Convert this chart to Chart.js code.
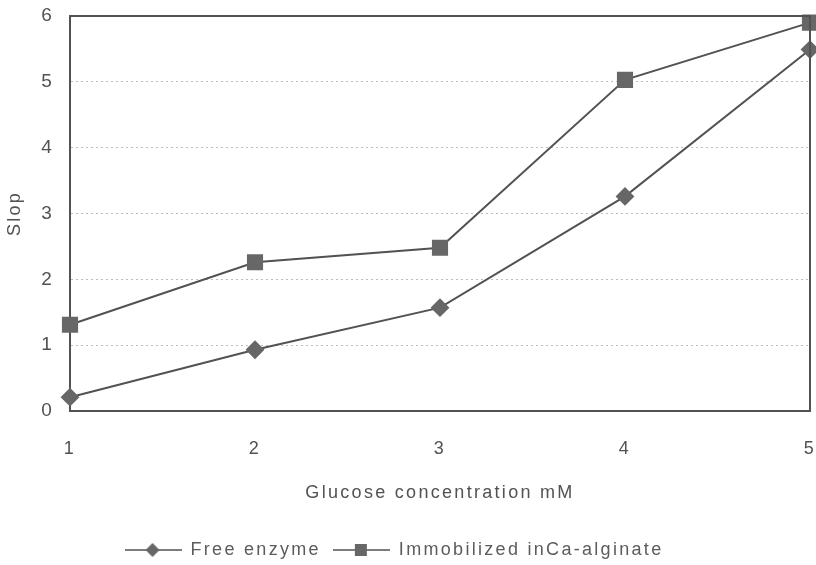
<!DOCTYPE html>
<html>
<head>
<meta charset="utf-8">
<script src="https://cdn.jsdelivr.net/npm/chart.js@4"></script>
<style>
  html, body { margin: 0; padding: 0; background: #fff; }
  #wrap { width: 816px; height: 565px; }
</style>
</head>
<body>
<div id="wrap"><canvas id="chart" width="816" height="565"></canvas></div>
<script>
const concentrations = ["1", "2", "3", "4", "5"];
const freeEnzyme = [0.21, 0.93, 1.57, 3.26, 5.49];
const immobilized = [1.31, 2.26, 2.48, 5.03, 5.9];
const seriesNames = ["Free enzyme", "Immobilized inCa-alginate"];

const ink = "#525252";
const markFill = "#676767";
const fontFamily = "Liberation Sans, Arial, sans-serif";

// legend symbol: short line with the marker in the middle
const legendIcon = (shape) => {
  const c = document.createElement("canvas");
  c.width = 57;
  c.height = 16;
  const g = c.getContext("2d");
  g.strokeStyle = ink;
  g.lineWidth = 1.5;
  g.beginPath();
  g.moveTo(0, 8);
  g.lineTo(57, 8);
  g.stroke();
  g.fillStyle = markFill;
  if (shape === "diamond") {
    g.beginPath();
    g.moveTo(28, 1);
    g.lineTo(35, 8);
    g.lineTo(28, 15);
    g.lineTo(21, 8);
    g.closePath();
    g.fill();
  } else {
    g.fillRect(22, 2, 12, 12);
  }
  return c;
};

// wide, loosely set lettering
const spacing = {
  id: "spacing",
  beforeUpdate(chart) { chart.ctx.letterSpacing = "2.3px"; },
  beforeDraw(chart) { chart.ctx.letterSpacing = "2.3px"; },
};

// legend row sits a little left of the canvas centre
const legendShift = {
  id: "legendShift",
  afterLayout(chart) {
    chart.legend.left -= 11;
    chart.legend.right -= 11;
  },
};

// top and right edges of the plot frame
const frame = {
  id: "frame",
  afterDraw(chart) {
    const { ctx, chartArea: a } = chart;
    ctx.save();
    ctx.strokeStyle = ink;
    ctx.lineWidth = 2;
    ctx.beginPath();
    ctx.moveTo(a.left, a.top);
    ctx.lineTo(a.right, a.top);
    ctx.lineTo(a.right, a.bottom);
    ctx.stroke();
    ctx.restore();
  },
};

new Chart(document.getElementById("chart"), {
  type: "line",
  plugins: [spacing, legendShift, frame],
  data: {
    labels: concentrations,
    datasets: [
      {
        label: seriesNames[0],
        data: freeEnzyme,
        borderColor: ink,
        borderWidth: 2,
        pointStyle: "rectRot",
        pointRadius: 8,
        pointBackgroundColor: markFill,
        pointBorderColor: markFill,
        tension: 0,
      },
      {
        label: seriesNames[1],
        data: immobilized,
        borderColor: ink,
        borderWidth: 2,
        pointStyle: "rect",
        pointRadius: 10,
        pointBackgroundColor: markFill,
        pointBorderColor: markFill,
        tension: 0,
      },
    ],
  },
  options: {
    responsive: false,
    animation: false,
    clip: false,
    layout: {
      autoPadding: false,
      padding: { top: 16, right: 6, left: 0, bottom: -4 },
    },
    plugins: {
      tooltip: { enabled: false },
      legend: {
        position: "bottom",
        labels: {
          color: "#5c5c5c",
          font: { family: fontFamily, size: 18 },
          usePointStyle: true,
          pointStyleWidth: 57,
          padding: 12,
          generateLabels: (chart) =>
            chart.data.datasets.map((ds, i) => ({
              text: ds.label,
              pointStyle: legendIcon(i === 0 ? "diamond" : "square"),
              fontColor: "#5c5c5c",
              datasetIndex: i,
              lineWidth: 0,
            })),
        },
      },
    },
    scales: {
      x: {
        offset: false,
        afterFit: (scale) => {
          scale.height = 118;
          scale.paddingLeft = 0;
          scale.paddingRight = 0;
        },
        grid: { display: false, drawTicks: false },
        border: { color: ink, width: 2 },
        ticks: {
          color: ink,
          padding: 27,
          font: { family: fontFamily, size: 18 },
        },
        title: {
          display: true,
          text: "Glucose concentration mM",
          color: ink,
          padding: { top: 20, bottom: 25 },
          font: { family: fontFamily, size: 18 },
        },
      },
      y: {
        min: 0,
        max: 6,
        afterFit: (scale) => {
          scale.width = 70;
          scale.paddingTop = 0;
          scale.paddingBottom = 0;
        },
        grid: {
          color: "#bdbdbd",
          lineWidth: 1,
          drawTicks: false,
        },
        // dotted grid lines
        border: { color: ink, width: 2, dash: [2, 3] },
        ticks: {
          stepSize: 1,
          color: ink,
          padding: 16,
          font: { family: fontFamily, size: 19 },
        },
        title: {
          display: true,
          text: "Slop",
          color: ink,
          padding: { bottom: 4 },
          font: { family: fontFamily, size: 18 },
        },
      },
    },
  },
});
</script>
</body>
</html>
